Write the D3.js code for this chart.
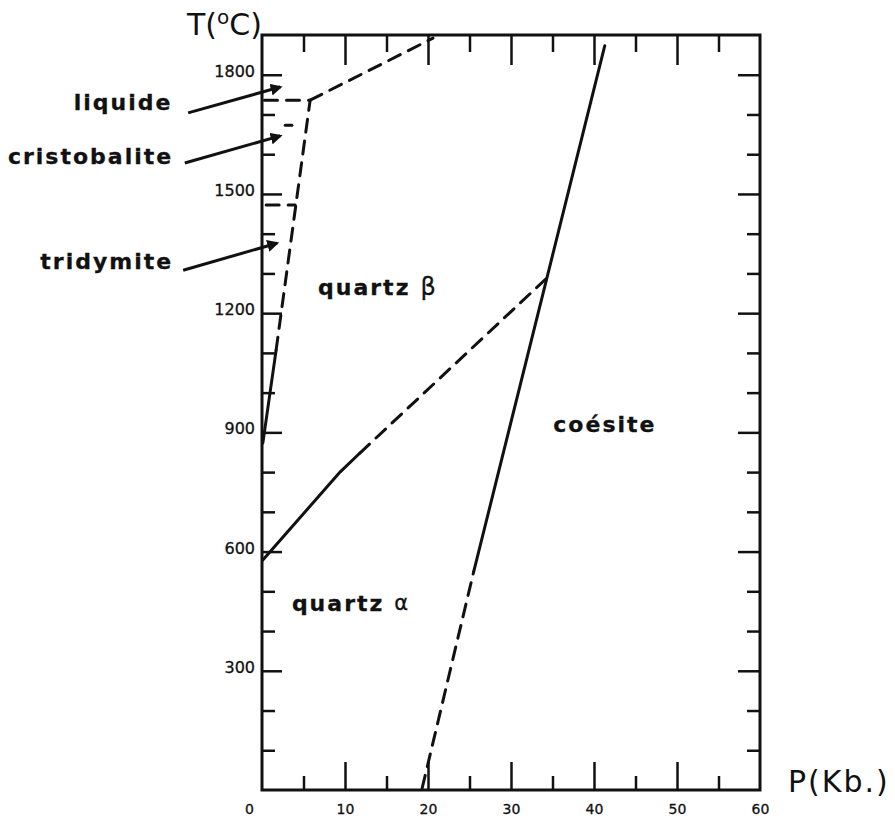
<!DOCTYPE html>
<html>
<head>
<meta charset="utf-8">
<script src="https://cdn.jsdelivr.net/npm/d3@7"></script>
<style>
  html, body { margin: 0; padding: 0; background: #fff; }
  svg { display: block; }
</style>
</head>
<body>
<svg id="chart" width="895" height="820"></svg>
<script>
// ---- axes ----
const pDomain = [0, 60];          // pressure, kbar
const tDomain = [0, 1900];        // temperature, °C
const pMajorTicks = [10, 20, 30, 40, 50];
const pMinorTicks = [5, 15, 25, 35, 45, 55];
const pTickLabels = [0, 10, 20, 30, 40, 50, 60];
const tMajorTicks = [300, 600, 900, 1200, 1500, 1800];
const tMinorTicks = [100, 200, 400, 500, 700, 800, 1000, 1100, 1300, 1400, 1600, 1700];
const tTickLabels = [300, 600, 900, 1200, 1500, 1800];

// ---- phase boundaries [P (kbar), T (°C)] ----
const quartzAlphaBetaSolid = [[0.1, 579], [9.4, 800], [11.8, 848]];
const quartzAlphaBetaDashed = [[11.8, 848], [34.4, 1290]];
const coesiteDashed = [[19.3, 5], [25.5, 549]];
const coesiteSolid = [[25.5, 549], [41.3, 1873]];
const tridymiteSolid = [[0.1, 873], [1.7, 1107]];
const tridymiteDashed = [[1.7, 1107], [5.8, 1736]];
const liquidusDashed = [[5.8, 1736], [20.6, 1892]];
const cristobaliteLiquidDashed = [[0.3, 1736], [5.8, 1736]];
const tridymiteCristobaliteDashed = [[0.5, 1472], [4.0, 1472]];
const cristobaliteStub = [[2.8, 1673], [3.6, 1673]];

// ---- labels ----
const phaseNames = ["quartz", "quartz", "coésite"];
const phaseP = [6.75, 3.6, 35.1];
const phaseT = [1266, 471, 921];
const phaseGreek = ["β", "α", ""];

const sideNames = ["liquide", "cristobalite", "tridymite"];
const sideLabelP = [-10.8, -10.7, -10.7];
const sideLabelT = [1731, 1593, 1329];
const arrowTail = [[-8.9, 1704], [-9.3, 1578], [-9.5, 1308]];
const arrowHead = [[2.2, 1769], [2.2, 1646], [1.8, 1376]];

const svg = d3.select("#chart");
const x = d3.scaleLinear().domain(pDomain).range([262, 760]);
const y = d3.scaleLinear().domain(tDomain).range([790, 35]);

const ink = "#111";
const line = d3.line().x(d => x(d[0])).y(d => y(d[1]));

// frame
svg.append("rect")
  .attr("x", x(0)).attr("y", y(1900))
  .attr("width", x(60) - x(0)).attr("height", y(0) - y(1900))
  .attr("fill", "none").attr("stroke", ink).attr("stroke-width", 3);

// inward ticks on all four sides
function ticks(axis, values, size, tx, ty) {
  const g = svg.append("g")
    .attr("transform", `translate(${tx},${ty})`)
    .call(axis.tickValues(values).tickSize(size).tickFormat(""));
  g.select(".domain").remove();
  g.selectAll(".tick line").attr("stroke", ink).attr("stroke-width", 2.5);
}
ticks(d3.axisRight(y), tMajorTicks, 20, x(0), 0);
ticks(d3.axisRight(y), tMinorTicks, 13, x(0), 0);
ticks(d3.axisLeft(y), tMajorTicks, 22, x(60), 0);
ticks(d3.axisLeft(y), tMinorTicks, 13, x(60), 0);
ticks(d3.axisBottom(x), pMajorTicks, 30, 0, y(1900));
ticks(d3.axisBottom(x), pMinorTicks, 17, 0, y(1900));
ticks(d3.axisTop(x), pMajorTicks, 28, 0, y(0));
ticks(d3.axisTop(x), pMinorTicks, 14, 0, y(0));

// tick labels
const yLab = svg.append("g")
  .attr("transform", `translate(${x(0)},0)`)
  .call(d3.axisLeft(y).tickValues(tTickLabels).tickFormat(d3.format("d")).tickSize(0).tickPadding(7));
yLab.select(".domain").remove();
yLab.selectAll("text")
  .attr("font-family", "DejaVu Sans").attr("font-size", 16)
  .attr("fill", ink).attr("stroke", ink).attr("stroke-width", 0.3)
  .attr("dy", "0.1em");

const xLab = svg.append("g")
  .attr("transform", `translate(0,${y(0)})`)
  .call(d3.axisBottom(x).tickValues(pTickLabels).tickFormat(d3.format("d")).tickSize(0).tickPadding(14));
xLab.select(".domain").remove();
xLab.selectAll("text")
  .attr("font-family", "DejaVu Sans").attr("font-size", 14)
  .attr("fill", ink).attr("stroke", ink).attr("stroke-width", 0.3)
  .attr("dx", d => d === 0 ? -13 : 0);

// axis titles
const tTitle = svg.append("text")
  .attr("x", 187).attr("y", 35)
  .attr("font-family", "DejaVu Sans").attr("font-size", 30).attr("fill", ink);
tTitle.append("tspan").text("T(");
tTitle.append("tspan").attr("font-size", 20).attr("dy", -11).text("o");
tTitle.append("tspan").attr("dy", 11).text("C)");

svg.append("text")
  .attr("x", 788).attr("y", 792)
  .attr("font-family", "DejaVu Sans").attr("font-size", 30)
  .attr("letter-spacing", 2).attr("fill", ink)
  .text("P(Kb.)");

// phase boundaries
function boundary(data, dashed) {
  svg.append("path")
    .datum(data)
    .attr("d", line)
    .attr("fill", "none")
    .attr("stroke", ink)
    .attr("stroke-width", 3)
    .attr("stroke-linecap", "round")
    .attr("stroke-dasharray", dashed ? "13 9" : null);
}
boundary(quartzAlphaBetaSolid, false);
boundary(quartzAlphaBetaDashed, true);
boundary(coesiteDashed, true);
boundary(coesiteSolid, false);
boundary(tridymiteSolid, false);
boundary(tridymiteDashed, true);
boundary(liquidusDashed, true);
boundary(cristobaliteLiquidDashed, true);
boundary(tridymiteCristobaliteDashed, true);
boundary(cristobaliteStub, false);

// heavy lettering for field names
function heavy(sel) {
  return sel
    .attr("font-family", "DejaVu Sans").attr("font-weight", "bold")
    .attr("font-size", 22).attr("letter-spacing", 2)
    .attr("fill", ink).attr("stroke", ink).attr("stroke-width", 0.3);
}

phaseNames.forEach((name, i) => {
  const t = svg.append("text")
    .attr("x", x(phaseP[i])).attr("y", y(phaseT[i]))
    .attr("dominant-baseline", "central")
    .attr("fill", ink);
  heavy(t.append("tspan")).text(name);
  if (phaseGreek[i]) {
    t.append("tspan")
      .attr("dx", 10)
      .attr("font-family", "DejaVu Sans").attr("font-size", phaseGreek[i] === "β" ? 24 : 21)
      .attr("stroke", ink).attr("stroke-width", 0.3)
      .text(phaseGreek[i]);
  }
});

// side labels with arrows into the low-pressure fields
const defs = svg.append("defs");
defs.append("marker")
  .attr("id", "head")
  .attr("viewBox", "0 0 10 10")
  .attr("refX", 8).attr("refY", 5)
  .attr("markerWidth", 4).attr("markerHeight", 4)
  .attr("orient", "auto")
  .append("path").attr("d", "M0,0 L10,5 L0,10 Z").attr("fill", ink);

sideNames.forEach((name, i) => {
  heavy(svg.append("text")
    .attr("x", x(sideLabelP[i])).attr("y", y(sideLabelT[i]))
    .attr("text-anchor", "end")
    .attr("dominant-baseline", "central"))
    .text(name);
  svg.append("line")
    .attr("x1", x(arrowTail[i][0])).attr("y1", y(arrowTail[i][1]))
    .attr("x2", x(arrowHead[i][0])).attr("y2", y(arrowHead[i][1]))
    .attr("stroke", ink).attr("stroke-width", 3)
    .attr("marker-end", "url(#head)");
});
</script>
</body>
</html>
